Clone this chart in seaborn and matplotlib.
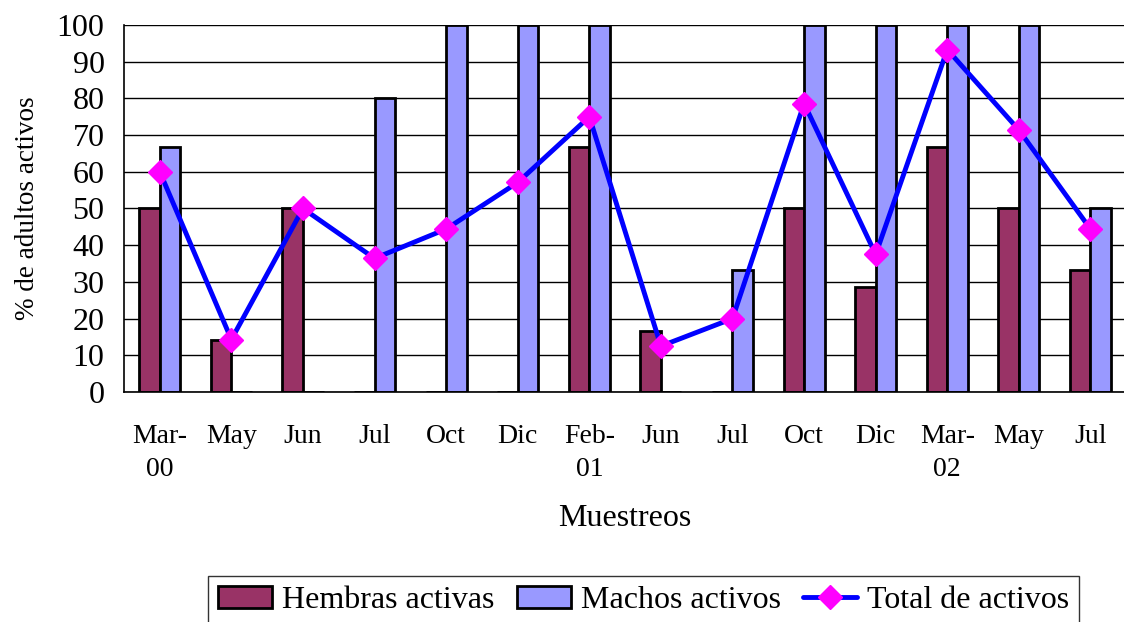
import numpy as np
import pandas as pd
import matplotlib
matplotlib.use("Agg")
import matplotlib.pyplot as plt
import seaborn as sns
from matplotlib.patches import Patch
from matplotlib.lines import Line2D
from matplotlib.ticker import FixedLocator

# ---- data ----
muestreos = ["Mar-00", "May-00", "Jun-00", "Jul-00", "Oct-00", "Dic-00", "Feb-01",
             "Jun-01", "Jul-01", "Oct-01", "Dic-01", "Mar-02", "May-02", "Jul-02"]
tick_labels = ["Mar-\n00", "May", "Jun", "Jul", "Oct", "Dic", "Feb-\n01",
               "Jun", "Jul", "Oct", "Dic", "Mar-\n02", "May", "Jul"]
hembras = [50, 14.3, 50, 0, 0, 0, 66.7, 16.7, 0, 50, 28.6, 66.7, 50, 33.3]
machos = [66.7, 0, 0, 80, 100, 100, 100, 0, 33.3, 100, 100, 100, 100, 50]
total = [60, 14.3, 50, 36.4, 44.4, 57.1, 75, 12.5, 20, 78.6, 37.5, 93.3, 71.4, 44.4]
series_names = ["Hembras activas", "Machos activos", "Total de activos"]
y_ticks = [0, 10, 20, 30, 40, 50, 60, 70, 80, 90, 100]

C_H = "#993366"
C_M = "#9999FF"
C_LINE = "#0000FF"
C_MARK = "#FF00FF"

sns.set_style("white")
plt.rcParams["font.family"] = ["Liberation Serif", "DejaVu Serif"]
plt.rcParams["text.color"] = "black"
plt.rcParams["axes.labelcolor"] = "black"
plt.rcParams["xtick.color"] = "black"
plt.rcParams["ytick.color"] = "black"

df = pd.DataFrame({
    "Muestreo": muestreos * 2,
    "valor": hembras + machos,
    "Serie": [series_names[0]] * len(muestreos) + [series_names[1]] * len(muestreos),
})

fig = plt.figure(figsize=(11.24, 6.22), dpi=100)
ax = fig.add_axes([0.1103, 0.3698, 0.8917, 0.5900])

sns.barplot(data=df, x="Muestreo", y="valor", hue="Serie", order=muestreos,
            hue_order=series_names[:2], palette={series_names[0]: C_H, series_names[1]: C_M},
            width=0.575, edgecolor="black", linewidth=2.0, saturation=1,
            legend=False, ax=ax)

sns.pointplot(x=muestreos, y=total, order=muestreos, color=C_LINE, markers="D",
              markersize=12, linewidth=3.5, errorbar=None, ax=ax)
pl = ax.lines[-1]
pl.set_markerfacecolor(C_MARK)
pl.set_markeredgecolor(C_MARK)
pl.set_markeredgewidth(1)
pl.set_zorder(5)

ax.set_xlim(-0.5, len(muestreos) - 0.5)
ax.set_ylim(0, 100)
ax.set_yticks(y_ticks)
ax.set_yticklabels([str(v) for v in y_ticks], fontsize=23)
ax.set_xticks(range(len(muestreos)))
ax.set_xticklabels(tick_labels, fontsize=20, linespacing=1.4)
ax.xaxis.set_minor_locator(FixedLocator(np.arange(-0.5, len(muestreos), 1.0)))
ax.tick_params(axis="x", which="major", length=0, pad=23)
ax.tick_params(axis="x", which="minor", direction="inout", length=12, width=1, color="black")
ax.tick_params(axis="y", which="major", direction="inout", length=14, width=1,
               color="black", pad=7)

ax.yaxis.grid(True, color="black", linewidth=1)
ax.set_axisbelow(True)
for s in ["top", "right"]:
    ax.spines[s].set_visible(False)
for s in ["left", "bottom"]:
    ax.spines[s].set_color("black")
    ax.spines[s].set_linewidth(1.2)

ax.set_xlabel("Muestreos", fontsize=23, labelpad=16)
ax.set_ylabel("% de adultos activos", fontsize=19.5, labelpad=12)

handles = [
    Patch(facecolor=C_H, edgecolor="black", linewidth=2.0),
    Patch(facecolor=C_M, edgecolor="black", linewidth=2.0),
    Line2D([0], [0], color=C_LINE, linewidth=3.5, marker="D", markersize=12,
           markerfacecolor=C_MARK, markeredgecolor=C_MARK),
]
leg = fig.legend(handles, series_names, loc="upper center", bbox_to_anchor=(0.5725, 0.074),
                 ncol=3, frameon=True, fancybox=False, edgecolor="black", fontsize=23,
                 handlelength=1.7, handletextpad=0.3, columnspacing=0.7, borderpad=0.3,
                 borderaxespad=0)
leg.get_frame().set_linewidth(1)

fig.savefig("out.png", dpi=100)
